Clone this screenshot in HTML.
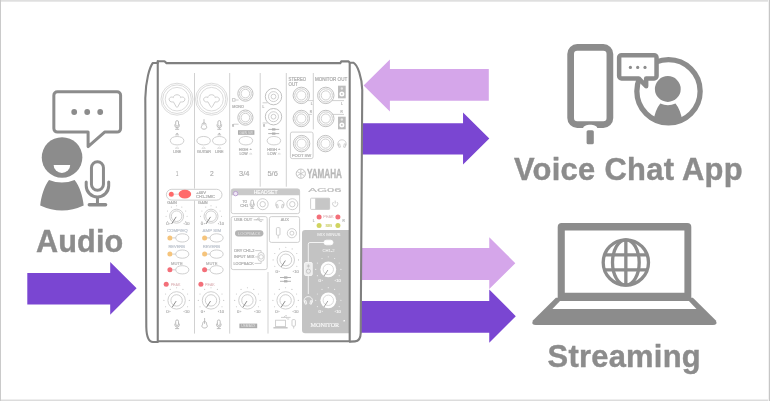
<!DOCTYPE html>
<html lang="en"><head><meta charset="utf-8"><title>Audio routing</title>
<style>
html,body{margin:0;padding:0;background:#fff;}
body{width:770px;height:401px;overflow:hidden;position:relative;font-family:"Liberation Sans",sans-serif;}
svg{position:absolute;left:0;top:0;display:block;will-change:transform;opacity:0.999}
.lbl{font-family:"Liberation Sans",sans-serif;font-weight:bold;font-size:30.9px;fill:#8c8c8c;stroke:#8c8c8c;stroke-width:0.4px;letter-spacing:0.12px;}
.t{font-family:"Liberation Sans",sans-serif;fill:#b9b9b9;}
</style></head><body>
<svg width="770" height="401" viewBox="0 0 770 401">
<rect x="0" y="0" width="770" height="401" fill="#fff"/>

<g id="frame"><rect x="0" y="0" width="770" height="1" fill="#dfdfdf"/><rect x="0" y="1" width="770" height="1" fill="#e8e8e8"/><rect x="0" y="399" width="770" height="1" fill="#eeeeee"/><rect x="0" y="400" width="770" height="1" fill="#dcdcdc"/><rect x="0" y="0" width="1" height="401" fill="#cacaca"/><rect x="768" y="0" width="1" height="401" fill="#f2f2f2"/><rect x="769" y="0" width="1" height="401" fill="#c6c6c6"/></g>
<g id="arrows">
<polygon points="27.3,273.05 110.2,273.05 110.2,261.9 136.6,288.30 110.2,314.7 110.2,304.5 27.3,304.5" fill="#7a46d2"/>
<polygon points="488.8,68.9 389.9,68.9 389.9,59.4 363.6,85.50 389.9,111.6 389.9,100.8 488.8,100.8" fill="#d5a6ea"/>
<polygon points="361,123.2 463.05,123.2 463.05,112.4 489.3,138.50 463.05,164.6 463.05,154.5 361,154.5" fill="#7a46d2"/>
<polygon points="361,248.1 489.25,248.1 489.25,237.2 515.3,263.15 489.25,289.1 489.25,279.9 361,279.9" fill="#d5a6ea"/>
<polygon points="361,301.05 489.25,301.05 489.25,289.6 515.8,316.15 489.25,342.7 489.25,332.75 361,332.75" fill="#7a46d2"/>
</g>
<text class="lbl" x="36.1" y="251.5" style="font-size:30.6px">Audio</text>
<text class="lbl" x="513.9" y="180" style="letter-spacing:0.3px">Voice Chat App</text>
<text class="lbl" x="547.6" y="367" style="letter-spacing:0.25px">Streaming</text>
<g id="audio-icon" fill="none" stroke="#8c8c8c">
<path d="M57.35,91.7 H117.1 a3.5,3.5 0 0 1 3.5,3.5 V128.6 a3.5,3.5 0 0 1 -3.5,3.5 H104.6 L88.1,146.6 V132.1 H57.35 a3.5,3.5 0 0 1 -3.5,-3.5 V95.2 a3.5,3.5 0 0 1 3.5,-3.5 Z" stroke-width="3" stroke-linejoin="round" fill="#fff"/>
<circle cx="74.2" cy="112" r="2.9" fill="#8c8c8c" stroke="none"/>
<circle cx="87.2" cy="112" r="2.9" fill="#8c8c8c" stroke="none"/>
<circle cx="100.2" cy="112" r="2.9" fill="#8c8c8c" stroke="none"/>
<circle cx="62.05" cy="157.45" r="20.3" fill="#8c8c8c" stroke="none"/>
<path d="M53.6,164.9 H70.2 A8.3,8.1 0 0 1 53.6,164.9 Z" fill="#fff" stroke="none"/>
<path d="M49,180 Q62,185 74.6,180 C79.6,186 82.6,196 83.7,205.4 Q62,215.4 40.2,205.4 C41.3,196 44.3,186 49,180 Z" fill="#8c8c8c" stroke="none"/>
<rect x="91.45" y="161.7" width="12" height="28.5" rx="6" stroke-width="3"/>
<path d="M86.2,181.9 V185.65 A11.25,11.25 0 0 0 108.7,185.65 V181.9" stroke-width="3" stroke-linecap="round"/>
<path d="M97.45,198 V204.5" stroke-width="3"/>
<path d="M89.3,204.75 H105.6" stroke-width="3.4" stroke-linecap="round"/>
</g>
<g id="phone">
<rect x="570.65" y="47.4" width="39.25" height="77.25" rx="6.6" fill="#fff" stroke="#8c8c8c" stroke-width="6.7"/>
<path d="M583.1,129 V128.4 C583.1,123.4 597.3,123.4 597.3,128.4 V129 Z" fill="#fff"/>
<rect x="586.6" y="130.2" width="7.2" height="14.15" rx="1.6" fill="#8c8c8c"/>
</g>
<g id="chat-person">
<clipPath id="cp"><circle cx="668.5" cy="91.3" r="31"/></clipPath>
<circle cx="668.5" cy="91.3" r="31.65" fill="#fff" stroke="#8c8c8c" stroke-width="5.3"/>
<circle cx="667.8" cy="89" r="12.9" fill="#8c8c8c"/>
<path clip-path="url(#cp)" d="M660.3,103.6 Q667.9,106.8 675.5,103.6 C679,108 681.3,114 682.6,122 V127 H653.2 V122 C654.5,114 656.8,108 660.3,103.6 Z" fill="#8c8c8c"/>
<path d="M621.55,55.15 H654.15 a2.4,2.4 0 0 1 2.4,2.4 V76 a2.4,2.4 0 0 1 -2.4,2.4 H646.15 V86.2 L638.7,78.4 H621.55 a2.4,2.4 0 0 1 -2.4,-2.4 V57.55 a2.4,2.4 0 0 1 2.4,-2.4 Z" fill="#fff" stroke="#8c8c8c" stroke-width="4.5" stroke-linejoin="round"/>
<circle cx="630.4" cy="67.4" r="1.6" fill="#8c8c8c"/>
<circle cx="637.7" cy="67.4" r="1.6" fill="#8c8c8c"/>
<circle cx="645" cy="67.4" r="1.6" fill="#8c8c8c"/>
</g>
<g id="laptop">
<path d="M555.9,297.8 H692.9 L715.9,320.4 Q717.8,325 713,325 H535.8 Q531,325 532.9,320.4 Z" fill="#8c8c8c"/>
<path fill-rule="evenodd" d="M561.7,222.9 H687.3 a4,4 0 0 1 4,4 V300.6 H557.7 V226.9 a4,4 0 0 1 4,-4 Z M564.8,230.5 V292.8 H684.4 V230.5 Z" fill="#8c8c8c"/>
<polygon points="560,300.9 688.9,300.9 696.5,308.9 552.4,308.9" fill="#fff"/>
<g fill="none" stroke="#8c8c8c" stroke-width="3.3"><circle cx="625.85" cy="262.45" r="22.65"/><ellipse cx="625.85" cy="262.45" rx="13.35" ry="22.65"/><path d="M625.85,240 V285 M604.5,254.9 H647.2 M604.5,269.9 H647.2"/></g>
</g>
<g id="mixer" font-family="&quot;Liberation Sans&quot;, sans-serif">
<path d="M157.75,63 H152.8 C149.6,67 145.6,81 145.3,98 L146.3,327 C146.5,337 148.6,341.8 153,342 L157.75,342 V341.3 H350 L355,341.4 C358.6,341.2 360.6,338.4 360.7,333 L362.25,90 C361.9,77 357.6,65 353.4,62.7 H349.8 L348.6,61.4 H341.3 L340.3,63.1 H166.5 L164.5,61.3 H157.75 Z" fill="#fff" stroke="none"/>
<path d="M305.2,230.1 H349 V333.3 H305.2 a3.2,3.2 0 0 1 -3.2,-3.2 V233.3 a3.2,3.2 0 0 1 3.2,-3.2 Z" fill="#c3c3c3"/>
<g fill="none" stroke="#c8c8c8" stroke-width="0.85">
<g stroke="#cccccc" stroke-width="0.9">
<path d="M194.5,73 V188.6 M194.5,200.6 V333.6"/>
<path d="M229.7,73 V333.6"/>
<path d="M260.2,73 V186.7"/>
<path d="M286.3,73 V186.7"/>
<path d="M313.3,73 V129.4"/>
<path d="M268,272 V333.6"/>
</g>
<g stroke="#d2d2d2" stroke-width="0.8"><circle cx="177" cy="99.2" r="16"/><circle cx="177" cy="99.2" r="14.3"/><circle cx="177" cy="99.2" r="11.8"/></g>
<path transform="translate(177,99.2)" d="M-3.6,-1.6 C-3.6,-5.4 3.6,-5.4 3.6,-1.6 C5.4,-3 8.4,-1.6 7.8,0.8 C7.2,3 4.6,3 3.6,2.6 L0.9,7.4 C0.4,8.4 -0.4,8.4 -0.9,7.4 L-3.6,2.6 C-4.6,3 -7.2,3 -7.8,0.8 C-8.4,-1.6 -5.4,-3 -3.6,-1.6 Z"/>
<g stroke="#d2d2d2" stroke-width="0.8"><circle cx="211.5" cy="99.2" r="16"/><circle cx="211.5" cy="99.2" r="14.3"/><circle cx="211.5" cy="99.2" r="11.8"/></g>
<path transform="translate(211.5,99.2)" d="M-3.6,-1.6 C-3.6,-5.4 3.6,-5.4 3.6,-1.6 C5.4,-3 8.4,-1.6 7.8,0.8 C7.2,3 4.6,3 3.6,2.6 L0.9,7.4 C0.4,8.4 -0.4,8.4 -0.9,7.4 L-3.6,2.6 C-4.6,3 -7.2,3 -7.8,0.8 C-8.4,-1.6 -5.4,-3 -3.6,-1.6 Z"/>
<g transform="translate(177.1,125) scale(1.0)" stroke="#b2b2b2" fill="none"><rect x="-1.4" y="-4.4" width="2.8" height="5.6" rx="1.4"/><path d="M-2.3,-0.6 V0.4 a2.3,2.3 0 0 0 4.6,0 V-0.6 M0,2.7 V4.2 M-2,4.3 H2"/></g>
<path d="M170.29999999999998,140.7 C170.29999999999998,135.075 183.9,135.075 183.9,140.7 C183.9,146.325 170.29999999999998,146.325 170.29999999999998,140.7 Z"/>
<g transform="translate(204,124.6)" stroke="#b2b2b2" fill="none"><path d="M0,-5.4 V0.5" stroke="#b5b5b5"/><path d="M-1,-1.6 C-2.8,-0.8 -1.2,0.4 -2.5,1.8 C-3.4,3.6 -1.6,4.6 0,4.6 C1.6,4.6 3.4,3.6 2.5,1.8 C1.2,0.4 2.8,-0.8 1,-1.6 Z"/></g>
<g transform="translate(219.3,125) scale(1.0)" stroke="#b2b2b2" fill="none"><rect x="-1.4" y="-4.4" width="2.8" height="5.6" rx="1.4"/><path d="M-2.3,-0.6 V0.4 a2.3,2.3 0 0 0 4.6,0 V-0.6 M0,2.7 V4.2 M-2,4.3 H2"/></g>
<path d="M196.79999999999998,140.7 C196.79999999999998,135.075 210.4,135.075 210.4,140.7 C210.4,146.325 196.79999999999998,146.325 196.79999999999998,140.7 Z"/>
<path d="M212.5,140.7 C212.5,135.075 226.10000000000002,135.075 226.10000000000002,140.7 C226.10000000000002,146.325 212.5,146.325 212.5,140.7 Z"/>
<circle cx="245.4" cy="93.6" r="7.6" stroke="#b6b6b6"/><circle cx="245.4" cy="93.6" r="6.0"/><circle cx="245.4" cy="93.6" r="4.3"/>
<circle cx="245.4" cy="117.6" r="7.6" stroke="#b6b6b6"/><circle cx="245.4" cy="117.6" r="6.0"/><circle cx="245.4" cy="117.6" r="4.3"/>
<rect x="232.4" y="98.6" width="2.6" height="2.6"/><path d="M235,100 H238.6"/>
<path d="M233.5,124.2 H238.6"/>
<path d="M239.1,140.7 C239.1,135.075 252.70000000000002,135.075 252.70000000000002,140.7 C252.70000000000002,146.325 239.1,146.325 239.1,140.7 Z"/>
<circle cx="273.5" cy="96.6" r="8.2" stroke="#b6b6b6"/><circle cx="273.5" cy="96.6" r="5.0"/><circle cx="273.5" cy="96.6" r="2.4"/>
<circle cx="273.5" cy="116.7" r="8.2" stroke="#b6b6b6"/><circle cx="273.5" cy="116.7" r="5.0"/><circle cx="273.5" cy="116.7" r="2.4"/>
<path d="M262.6,102.8 H267.6 M262.6,123 H267.6"/>
<path d="M267.09999999999997,140.7 C267.09999999999997,135.075 280.7,135.075 280.7,140.7 C280.7,146.325 267.09999999999997,146.325 267.09999999999997,140.7 Z"/>
<path d="M268.2,129.4 H279.2" stroke="#a8a8a8"/><rect x="272" y="128.3" width="3.4" height="2.2" fill="#b0b0b0" stroke="none"/>
<path d="M268.2,133.6 H279.2" stroke="#a8a8a8"/><rect x="272" y="132.5" width="3.4" height="2.2" fill="#b0b0b0" stroke="none"/>
<circle cx="301.3" cy="95.4" r="8.2" stroke="#b6b6b6"/><circle cx="301.3" cy="95.4" r="6.6"/><circle cx="301.3" cy="95.4" r="4.6"/>
<circle cx="301.3" cy="118.5" r="8.2" stroke="#b6b6b6"/><circle cx="301.3" cy="118.5" r="6.6"/><circle cx="301.3" cy="118.5" r="4.6"/>
<path d="M307.9,100.6 H313.4 M308.7,114.4 H311.9"/>
<circle cx="325.8" cy="95.4" r="8.2" stroke="#b6b6b6"/><circle cx="325.8" cy="95.4" r="6.6"/><circle cx="325.8" cy="95.4" r="4.6"/>
<circle cx="325.8" cy="118.5" r="8.2" stroke="#b6b6b6"/><circle cx="325.8" cy="118.5" r="6.6"/><circle cx="325.8" cy="118.5" r="4.6"/>
<path d="M331.9,100.6 H344 M331.9,114.4 H344"/>
<circle cx="325.5" cy="143.6" r="8.2" stroke="#b6b6b6"/><circle cx="325.5" cy="143.6" r="6.6"/><circle cx="325.5" cy="143.6" r="4.6"/>
<g transform="translate(342,143.8) scale(1.0)" stroke="#c8c8c8" fill="none"><path d="M-3.6,2.2 C-5,-0.5 -3.6,-4 0,-4 C3.6,-4 5,-0.5 3.6,2.2"/><path d="M-3.8,0.3 L-2.3,0 L-1.6,3.3 L-3.1,3.6 Z M3.8,0.3 L2.3,0 L1.6,3.3 L3.1,3.6 Z"/></g>
<rect x="290.4" y="132.1" width="22.7" height="26.5" rx="1.8"/>
<circle cx="301.6" cy="143.6" r="8.2" stroke="#b6b6b6"/><circle cx="301.6" cy="143.6" r="6.6"/><circle cx="301.6" cy="143.6" r="4.6"/>
<rect x="166.4" y="189.3" width="55.6" height="10.8" rx="5.4" fill="#fff" stroke="#c6c6c6"/>
<circle cx="176.6" cy="216.2" r="7" fill="none" stroke="#c8c8c8"/><circle cx="176.6" cy="216.2" r="5.3" fill="none" stroke="#c8c8c8"/><circle cx="167.51" cy="221.45" r="0.55" fill="#c4c4c4" stroke="none"/><circle cx="166.10" cy="216.20" r="0.55" fill="#c4c4c4" stroke="none"/><circle cx="167.51" cy="210.95" r="0.55" fill="#c4c4c4" stroke="none"/><circle cx="171.35" cy="207.11" r="0.55" fill="#c4c4c4" stroke="none"/><circle cx="176.60" cy="205.70" r="0.55" fill="#c4c4c4" stroke="none"/><circle cx="181.85" cy="207.11" r="0.55" fill="#c4c4c4" stroke="none"/><circle cx="185.69" cy="210.95" r="0.55" fill="#c4c4c4" stroke="none"/><circle cx="187.10" cy="216.20" r="0.55" fill="#c4c4c4" stroke="none"/><circle cx="185.69" cy="221.45" r="0.55" fill="#c4c4c4" stroke="none"/><line x1="176.16" y1="216.87" x2="171.53" y2="224.00" stroke="#8e8e8e" stroke-width="1"/>
<circle cx="211" cy="216.2" r="7" fill="none" stroke="#c8c8c8"/><circle cx="211" cy="216.2" r="5.3" fill="none" stroke="#c8c8c8"/><circle cx="201.91" cy="221.45" r="0.55" fill="#c4c4c4" stroke="none"/><circle cx="200.50" cy="216.20" r="0.55" fill="#c4c4c4" stroke="none"/><circle cx="201.91" cy="210.95" r="0.55" fill="#c4c4c4" stroke="none"/><circle cx="205.75" cy="207.11" r="0.55" fill="#c4c4c4" stroke="none"/><circle cx="211.00" cy="205.70" r="0.55" fill="#c4c4c4" stroke="none"/><circle cx="216.25" cy="207.11" r="0.55" fill="#c4c4c4" stroke="none"/><circle cx="220.09" cy="210.95" r="0.55" fill="#c4c4c4" stroke="none"/><circle cx="221.50" cy="216.20" r="0.55" fill="#c4c4c4" stroke="none"/><circle cx="220.09" cy="221.45" r="0.55" fill="#c4c4c4" stroke="none"/><line x1="210.56" y1="216.87" x2="205.93" y2="224.00" stroke="#8e8e8e" stroke-width="1"/>
<path d="M175.70000000000002,237.9 C175.70000000000002,232.4 188.9,232.4 188.9,237.9 C188.9,243.4 175.70000000000002,243.4 175.70000000000002,237.9 Z"/>
<path d="M172.3,237.9 H175.8"/>
<path d="M175.70000000000002,254.1 C175.70000000000002,248.6 188.9,248.6 188.9,254.1 C188.9,259.6 175.70000000000002,259.6 175.70000000000002,254.1 Z"/>
<path d="M172.3,254.1 H175.8"/>
<path d="M175.70000000000002,269.8 C175.70000000000002,264.3 188.9,264.3 188.9,269.8 C188.9,275.3 175.70000000000002,275.3 175.70000000000002,269.8 Z"/>
<path d="M172.3,269.8 H175.8"/>
<path d="M210.0,237.9 C210.0,232.4 223.2,232.4 223.2,237.9 C223.2,243.4 210.0,243.4 210.0,237.9 Z"/>
<path d="M207.0,237.9 H210.1"/>
<path d="M210.0,254.1 C210.0,248.6 223.2,248.6 223.2,254.1 C223.2,259.6 210.0,259.6 210.0,254.1 Z"/>
<path d="M207.0,254.1 H210.1"/>
<path d="M210.0,269.8 C210.0,264.3 223.2,264.3 223.2,269.8 C223.2,275.3 210.0,275.3 210.0,269.8 Z"/>
<path d="M207.0,269.8 H210.1"/>
<circle cx="176.6" cy="300.4" r="8.7" fill="none" stroke="#c8c8c8"/><circle cx="176.6" cy="300.4" r="5.7" fill="none" stroke="#c8c8c8"/><circle cx="165.60" cy="306.75" r="0.55" fill="#c4c4c4" stroke="none"/><circle cx="163.90" cy="300.40" r="0.55" fill="#c4c4c4" stroke="none"/><circle cx="165.60" cy="294.05" r="0.55" fill="#c4c4c4" stroke="none"/><circle cx="170.25" cy="289.40" r="0.55" fill="#c4c4c4" stroke="none"/><circle cx="176.60" cy="287.70" r="0.55" fill="#c4c4c4" stroke="none"/><circle cx="182.95" cy="289.40" r="0.55" fill="#c4c4c4" stroke="none"/><circle cx="187.60" cy="294.05" r="0.55" fill="#c4c4c4" stroke="none"/><circle cx="189.30" cy="300.40" r="0.55" fill="#c4c4c4" stroke="none"/><circle cx="187.60" cy="306.75" r="0.55" fill="#c4c4c4" stroke="none"/><line x1="176.16" y1="301.07" x2="172.13" y2="307.28" stroke="#8e8e8e" stroke-width="1"/>
<circle cx="211" cy="300.4" r="8.7" fill="none" stroke="#c8c8c8"/><circle cx="211" cy="300.4" r="5.7" fill="none" stroke="#c8c8c8"/><circle cx="200.00" cy="306.75" r="0.55" fill="#c4c4c4" stroke="none"/><circle cx="198.30" cy="300.40" r="0.55" fill="#c4c4c4" stroke="none"/><circle cx="200.00" cy="294.05" r="0.55" fill="#c4c4c4" stroke="none"/><circle cx="204.65" cy="289.40" r="0.55" fill="#c4c4c4" stroke="none"/><circle cx="211.00" cy="287.70" r="0.55" fill="#c4c4c4" stroke="none"/><circle cx="217.35" cy="289.40" r="0.55" fill="#c4c4c4" stroke="none"/><circle cx="222.00" cy="294.05" r="0.55" fill="#c4c4c4" stroke="none"/><circle cx="223.70" cy="300.40" r="0.55" fill="#c4c4c4" stroke="none"/><circle cx="222.00" cy="306.75" r="0.55" fill="#c4c4c4" stroke="none"/><line x1="210.56" y1="301.07" x2="206.53" y2="307.28" stroke="#8e8e8e" stroke-width="1"/>
<circle cx="247.4" cy="300.4" r="8.7" fill="none" stroke="#c8c8c8"/><circle cx="247.4" cy="300.4" r="5.7" fill="none" stroke="#c8c8c8"/><circle cx="236.40" cy="306.75" r="0.55" fill="#c4c4c4" stroke="none"/><circle cx="234.70" cy="300.40" r="0.55" fill="#c4c4c4" stroke="none"/><circle cx="236.40" cy="294.05" r="0.55" fill="#c4c4c4" stroke="none"/><circle cx="241.05" cy="289.40" r="0.55" fill="#c4c4c4" stroke="none"/><circle cx="247.40" cy="287.70" r="0.55" fill="#c4c4c4" stroke="none"/><circle cx="253.75" cy="289.40" r="0.55" fill="#c4c4c4" stroke="none"/><circle cx="258.40" cy="294.05" r="0.55" fill="#c4c4c4" stroke="none"/><circle cx="260.10" cy="300.40" r="0.55" fill="#c4c4c4" stroke="none"/><circle cx="258.40" cy="306.75" r="0.55" fill="#c4c4c4" stroke="none"/><line x1="246.96" y1="301.07" x2="242.93" y2="307.28" stroke="#8e8e8e" stroke-width="1"/>
<circle cx="285.6" cy="300.4" r="8.7" fill="none" stroke="#c8c8c8"/><circle cx="285.6" cy="300.4" r="5.7" fill="none" stroke="#c8c8c8"/><circle cx="274.60" cy="306.75" r="0.55" fill="#c4c4c4" stroke="none"/><circle cx="272.90" cy="300.40" r="0.55" fill="#c4c4c4" stroke="none"/><circle cx="274.60" cy="294.05" r="0.55" fill="#c4c4c4" stroke="none"/><circle cx="279.25" cy="289.40" r="0.55" fill="#c4c4c4" stroke="none"/><circle cx="285.60" cy="287.70" r="0.55" fill="#c4c4c4" stroke="none"/><circle cx="291.95" cy="289.40" r="0.55" fill="#c4c4c4" stroke="none"/><circle cx="296.60" cy="294.05" r="0.55" fill="#c4c4c4" stroke="none"/><circle cx="298.30" cy="300.40" r="0.55" fill="#c4c4c4" stroke="none"/><circle cx="296.60" cy="306.75" r="0.55" fill="#c4c4c4" stroke="none"/><line x1="285.16" y1="301.07" x2="281.13" y2="307.28" stroke="#8e8e8e" stroke-width="1"/>
<circle cx="285.8" cy="259.9" r="8.7" fill="none" stroke="#c8c8c8"/><circle cx="285.8" cy="259.9" r="5.9" fill="none" stroke="#c8c8c8"/><circle cx="274.80" cy="266.25" r="0.55" fill="#c4c4c4" stroke="none"/><circle cx="273.10" cy="259.90" r="0.55" fill="#c4c4c4" stroke="none"/><circle cx="274.80" cy="253.55" r="0.55" fill="#c4c4c4" stroke="none"/><circle cx="279.45" cy="248.90" r="0.55" fill="#c4c4c4" stroke="none"/><circle cx="285.80" cy="247.20" r="0.55" fill="#c4c4c4" stroke="none"/><circle cx="292.15" cy="248.90" r="0.55" fill="#c4c4c4" stroke="none"/><circle cx="296.80" cy="253.55" r="0.55" fill="#c4c4c4" stroke="none"/><circle cx="298.50" cy="259.90" r="0.55" fill="#c4c4c4" stroke="none"/><circle cx="296.80" cy="266.25" r="0.55" fill="#c4c4c4" stroke="none"/><line x1="285.36" y1="260.57" x2="281.33" y2="266.78" stroke="#8e8e8e" stroke-width="1"/>
<g transform="translate(177.1,324.3) scale(1.0)" stroke="#b2b2b2" fill="none"><rect x="-1.4" y="-4.4" width="2.8" height="5.6" rx="1.4"/><path d="M-2.3,-0.6 V0.4 a2.3,2.3 0 0 0 4.6,0 V-0.6 M0,2.7 V4.2 M-2,4.3 H2"/></g>
<g transform="translate(204.6,323.4)" stroke="#b2b2b2" fill="none"><path d="M0,-5.4 V0.5" stroke="#b5b5b5"/><path d="M-1,-1.6 C-2.8,-0.8 -1.2,0.4 -2.5,1.8 C-3.4,3.6 -1.6,4.6 0,4.6 C1.6,4.6 3.4,3.6 2.5,1.8 C1.2,0.4 2.8,-0.8 1,-1.6 Z"/></g>
<g transform="translate(218.8,324.3) scale(1.0)" stroke="#b2b2b2" fill="none"><rect x="-1.4" y="-4.4" width="2.8" height="5.6" rx="1.4"/><path d="M-2.3,-0.6 V0.4 a2.3,2.3 0 0 0 4.6,0 V-0.6 M0,2.7 V4.2 M-2,4.3 H2"/></g>
<rect x="231.2" y="189" width="68.4" height="24.6" rx="2"/>
<g transform="translate(252.2,204.2) scale(0.95)" stroke="#b2b2b2" fill="none"><rect x="-1.4" y="-4.4" width="2.8" height="5.6" rx="1.4"/><path d="M-2.3,-0.6 V0.4 a2.3,2.3 0 0 0 4.6,0 V-0.6 M0,2.7 V4.2 M-2,4.3 H2"/></g>
<circle cx="262.7" cy="204.2" r="5.5" stroke="#c8c8c8"/><circle cx="262.7" cy="204.2" r="2.7"/>
<g transform="translate(279.9,204.4) scale(1.0)" stroke="#c8c8c8" fill="none"><path d="M-3.6,2.2 C-5,-0.5 -3.6,-4 0,-4 C3.6,-4 5,-0.5 3.6,2.2"/><path d="M-3.8,0.3 L-2.3,0 L-1.6,3.3 L-3.1,3.6 Z M3.8,0.3 L2.3,0 L1.6,3.3 L3.1,3.6 Z"/></g>
<circle cx="292.3" cy="204.2" r="5.5" stroke="#c8c8c8"/><circle cx="292.3" cy="204.2" r="2.7"/>
<rect x="231.2" y="216.6" width="36" height="53" rx="2"/>
<path d="M255.2,250.6 H261.1 V252.6 M255.2,256.9 H258.1 M254.6,263.4 H261.1 V261.2" />
<rect x="258.1" y="252.6" width="6" height="8.6" rx="2.6"/><circle cx="261.1" cy="256.9" r="2.2"/>
<path d="M253.7,219.8 H263.4 M256.4,219.8 L258.2,218.2 H259.8 M258.4,219.8 L260.2,221.4 H261.8" stroke="#b8b8b8"/>
<rect x="269.4" y="216.6" width="30.2" height="25.8" rx="2"/>
<rect x="276.4" y="227.6" width="3.6" height="7.6" rx="1"/><path d="M278.2,235.2 V238.4"/>
<circle cx="291.9" cy="233.2" r="4.6" stroke="#c8c8c8"/><circle cx="291.9" cy="233.2" r="2.0"/>
<path d="M280,277.5 H291" stroke="#a8a8a8"/><rect x="284" y="276.4" width="3.4" height="2.2" fill="#b0b0b0" stroke="none"/>
<path d="M280,281.3 H291" stroke="#a8a8a8"/><rect x="284" y="280.2" width="3.4" height="2.2" fill="#b0b0b0" stroke="none"/>
<path d="M281,317.4 H290.6 M283.6,317.4 L285.4,315.8 H287 M285.8,317.4 L287.6,319 H289.2"/>
<rect x="275.6" y="320.2" width="9.8" height="6.4"/><path d="M273.4,327.8 H287.6" stroke-width="1.3" stroke="#bdbdbd"/>
<rect x="292" y="319.6" width="3.4" height="6.6" rx="1"/><path d="M293.7,326.2 V328.6"/>
<rect x="310.6" y="198.2" width="19" height="11.2" rx="0.8" fill="#fff"/>
<rect x="315.2" y="198.2" width="14.4" height="11.2" fill="#c6c6c6" stroke="none"/>
<path d="M333.4,202 a2.6,2.6 0 1 0 3.6,0 M335.2,200.6 V203.6"/>
<circle cx="300.8" cy="173.7" r="4.6" stroke="#c2c2c2" stroke-width="1"/><path d="M300.8,169.6 V177.8 M297.2,171.6 L304.4,175.8 M304.4,171.6 L297.2,175.8" stroke="#c2c2c2" stroke-width="0.8"/>
</g>
<rect x="238" y="130.2" width="16.4" height="4.6" fill="#adadad"/>
<rect x="239.4" y="323.6" width="17.8" height="4.6" fill="#adadad"/>
<path d="M233.2,188.7 H297.8 a2,2 0 0 1 2,2 V195.2 H231.2 V190.7 a2,2 0 0 1 2,-2 Z" fill="#c9c9c9"/>
<rect x="235" y="230.2" width="28.4" height="6.3" rx="3.15" fill="#b4b4b4"/>
<circle cx="235.6" cy="193.6" r="2.2" fill="#efe6f5" stroke="#b99ccf" stroke-width="0.9"/>
<rect x="338" y="85.7" width="7.7" height="12.6" fill="#bdbdbd"/><circle cx="341.85" cy="93.9" r="2.5" fill="#fff"/><circle cx="341.85" cy="93.9" r="0.9" fill="#bdbdbd"/><circle cx="341.85" cy="88.5" r="1.2" fill="#e6e6e6"/>
<rect x="338" y="116.7" width="7.7" height="12.6" fill="#bdbdbd"/><circle cx="341.85" cy="124.9" r="2.5" fill="#fff"/><circle cx="341.85" cy="124.9" r="0.9" fill="#bdbdbd"/><circle cx="341.85" cy="119.5" r="1.2" fill="#e6e6e6"/>
<circle cx="171.3" cy="194.2" r="2.5" fill="#ff6a6a"/><path d="M173.8,194.2 H179" stroke="#d4d4d4" stroke-width="0.8"/><ellipse cx="184.9" cy="194.1" rx="6.3" ry="4.4" fill="#ff6a6a"/>
<circle cx="169.9" cy="237.9" r="2.5" fill="#f5c47c"/><circle cx="169.9" cy="254.1" r="2.5" fill="#f5c47c"/><circle cx="169.9" cy="269.8" r="2.5" fill="#f36f79"/>
<circle cx="204.6" cy="237.9" r="2.5" fill="#f5c47c"/><circle cx="204.6" cy="254.1" r="2.5" fill="#f5c47c"/><circle cx="204.6" cy="269.8" r="2.5" fill="#f36f79"/>
<circle cx="166.2" cy="284.3" r="2.5" fill="#f36f79"/><circle cx="200.9" cy="284.3" r="2.5" fill="#f36f79"/>
<circle cx="319.1" cy="216.9" r="2.5" fill="#f36f79"/><circle cx="337.9" cy="216.9" r="2.5" fill="#f36f79"/>
<circle cx="319.1" cy="225.5" r="2.5" fill="#d0d460"/><circle cx="337.9" cy="225.5" r="2.5" fill="#d0d460"/>
<g fill="none" stroke="#fff" stroke-width="0.8">
<rect x="324" y="240.2" width="9" height="4.6" rx="2.3" fill="#fff"/>
<path d="M324,242.5 H310 a1.7,1.7 0 0 0 -1.7,1.7 V262.4 M308.3,275.6 V294"/>
<rect x="304.6" y="262.6" width="7.6" height="12.8" rx="1" fill="#ececec" stroke="#fff"/>
<circle cx="308.4" cy="271.2" r="2.1" stroke="#bdbdbd"/><path d="M308.4,264.4 V267.6 M306.9,266 H309.9" stroke="#bdbdbd"/>
<g transform="translate(308.3,300.6) scale(1.0)" stroke="#fff" fill="none"><path d="M-3.6,2.2 C-5,-0.5 -3.6,-4 0,-4 C3.6,-4 5,-0.5 3.6,2.2"/><path d="M-3.8,0.3 L-2.3,0 L-1.6,3.3 L-3.1,3.6 Z M3.8,0.3 L2.3,0 L1.6,3.3 L3.1,3.6 Z"/></g>
</g>
<circle cx="328.3" cy="269.4" r="7.9" fill="#fff"/><circle cx="328.3" cy="269.4" r="5.2" fill="none" stroke="#d0d0d0" stroke-width="0.8"/><circle cx="317.39" cy="275.70" r="0.6" fill="#ececec"/><circle cx="315.70" cy="269.40" r="0.6" fill="#ececec"/><circle cx="317.39" cy="263.10" r="0.6" fill="#ececec"/><circle cx="322.00" cy="258.49" r="0.6" fill="#ececec"/><circle cx="328.30" cy="256.80" r="0.6" fill="#ececec"/><circle cx="334.60" cy="258.49" r="0.6" fill="#ececec"/><circle cx="339.21" cy="263.10" r="0.6" fill="#ececec"/><circle cx="340.90" cy="269.40" r="0.6" fill="#ececec"/><circle cx="339.21" cy="275.70" r="0.6" fill="#ececec"/><line x1="327.86" y1="270.07" x2="323.94" y2="276.11" stroke="#9a9a9a" stroke-width="0.9"/>
<circle cx="328.3" cy="300.3" r="7.9" fill="#fff"/><circle cx="328.3" cy="300.3" r="5.2" fill="none" stroke="#d0d0d0" stroke-width="0.8"/><circle cx="317.39" cy="306.60" r="0.6" fill="#ececec"/><circle cx="315.70" cy="300.30" r="0.6" fill="#ececec"/><circle cx="317.39" cy="294.00" r="0.6" fill="#ececec"/><circle cx="322.00" cy="289.39" r="0.6" fill="#ececec"/><circle cx="328.30" cy="287.70" r="0.6" fill="#ececec"/><circle cx="334.60" cy="289.39" r="0.6" fill="#ececec"/><circle cx="339.21" cy="294.00" r="0.6" fill="#ececec"/><circle cx="340.90" cy="300.30" r="0.6" fill="#ececec"/><circle cx="339.21" cy="306.60" r="0.6" fill="#ececec"/><line x1="327.86" y1="300.97" x2="323.94" y2="307.01" stroke="#9a9a9a" stroke-width="0.9"/>
<text transform="translate(317.30,236) scale(0.125)" x="0" y="0" font-size="33.72" fill="#f4f4f4" stroke="#f4f4f4" stroke-width="0.40" font-weight="normal" textLength="185.60" lengthAdjust="spacingAndGlyphs">MIX MINUS</text>
<text transform="translate(322.50,252) scale(0.125)" x="0" y="0" font-size="33.72" fill="#f4f4f4" stroke="#f4f4f4" stroke-width="0.40" font-weight="normal" textLength="96.00" lengthAdjust="spacingAndGlyphs">CH1-2</text>
<text transform="translate(310.60,327) scale(0.125)" x="0" y="0" font-size="48.84" fill="#f6f6f6" stroke="#f6f6f6" stroke-width="1.60" font-weight="normal" textLength="228.80" lengthAdjust="spacingAndGlyphs" font-family="&quot;Liberation Serif&quot;, serif">MONITOR</text>
<text transform="translate(343.60,323) scale(0.125)" x="0" y="0" font-size="27.91" fill="#ffffff" stroke="#ffffff" stroke-width="1.76" font-weight="normal" textLength="11.20" lengthAdjust="spacingAndGlyphs">*</text>
<text transform="translate(175.90,176) scale(0.125)" x="0" y="0" font-size="52.33" fill="#adadad" stroke="#adadad" stroke-width="1.20" font-weight="normal" textLength="18.40" lengthAdjust="spacingAndGlyphs">1</text>
<text transform="translate(210.00,176) scale(0.125)" x="0" y="0" font-size="52.33" fill="#adadad" stroke="#adadad" stroke-width="1.20" font-weight="normal" textLength="29.60" lengthAdjust="spacingAndGlyphs">2</text>
<text transform="translate(239.00,176) scale(0.125)" x="0" y="0" font-size="52.33" fill="#adadad" stroke="#adadad" stroke-width="1.20" font-weight="normal" textLength="83.20" lengthAdjust="spacingAndGlyphs">3/4</text>
<text transform="translate(267.40,176) scale(0.125)" x="0" y="0" font-size="52.33" fill="#adadad" stroke="#adadad" stroke-width="1.20" font-weight="normal" textLength="83.20" lengthAdjust="spacingAndGlyphs">5/6</text>
<text transform="translate(173.20,153) scale(0.125)" x="0" y="0" font-size="32.56" fill="#b2b2b2" stroke="#b2b2b2" stroke-width="1.76" font-weight="normal" textLength="63.20" lengthAdjust="spacingAndGlyphs">LINE</text>
<text transform="translate(197.10,153) scale(0.125)" x="0" y="0" font-size="32.56" fill="#b2b2b2" stroke="#b2b2b2" stroke-width="1.76" font-weight="normal" textLength="111.20" lengthAdjust="spacingAndGlyphs">GUITAR</text>
<text transform="translate(215.10,153) scale(0.125)" x="0" y="0" font-size="32.56" fill="#b2b2b2" stroke="#b2b2b2" stroke-width="1.76" font-weight="normal" textLength="66.40" lengthAdjust="spacingAndGlyphs">LINE</text>
<text transform="translate(238.70,151) scale(0.125)" x="0" y="0" font-size="30.23" fill="#b2b2b2" stroke="#b2b2b2" stroke-width="1.76" font-weight="normal" textLength="77.60" lengthAdjust="spacingAndGlyphs">HIGH</text>
<text transform="translate(239.50,155) scale(0.125)" x="0" y="0" font-size="30.23" fill="#b2b2b2" stroke="#b2b2b2" stroke-width="1.76" font-weight="normal" textLength="65.60" lengthAdjust="spacingAndGlyphs">LOW</text>
<text transform="translate(267.20,151) scale(0.125)" x="0" y="0" font-size="30.23" fill="#b2b2b2" stroke="#b2b2b2" stroke-width="1.76" font-weight="normal" textLength="77.60" lengthAdjust="spacingAndGlyphs">HIGH</text>
<text transform="translate(267.60,155) scale(0.125)" x="0" y="0" font-size="30.23" fill="#b2b2b2" stroke="#b2b2b2" stroke-width="1.76" font-weight="normal" textLength="68.80" lengthAdjust="spacingAndGlyphs">LOW</text>
<text transform="translate(232.30,108) scale(0.125)" x="0" y="0" font-size="33.72" fill="#b2b2b2" stroke="#b2b2b2" stroke-width="1.76" font-weight="normal" textLength="92.80" lengthAdjust="spacingAndGlyphs">MONO</text>
<text transform="translate(232.00,127) scale(0.125)" x="0" y="0" font-size="30.23" fill="#b2b2b2" stroke="#b2b2b2" stroke-width="1.76" font-weight="normal" textLength="17.60" lengthAdjust="spacingAndGlyphs">R</text>
<text transform="translate(262.60,108) scale(0.125)" x="0" y="0" font-size="30.23" fill="#b2b2b2" stroke="#b2b2b2" stroke-width="1.76" font-weight="normal" textLength="14.40" lengthAdjust="spacingAndGlyphs">L</text>
<text transform="translate(263.10,127) scale(0.125)" x="0" y="0" font-size="30.23" fill="#b2b2b2" stroke="#b2b2b2" stroke-width="1.76" font-weight="normal" textLength="17.60" lengthAdjust="spacingAndGlyphs">R</text>
<text transform="translate(288.60,81) scale(0.125)" x="0" y="0" font-size="38.37" fill="#adadad" stroke="#adadad" stroke-width="1.60" font-weight="normal" textLength="140.00" lengthAdjust="spacingAndGlyphs">STEREO</text>
<text transform="translate(288.60,86) scale(0.125)" x="0" y="0" font-size="38.37" fill="#adadad" stroke="#adadad" stroke-width="1.60" font-weight="normal" textLength="72.00" lengthAdjust="spacingAndGlyphs">OUT</text>
<text transform="translate(315.00,81) scale(0.125)" x="0" y="0" font-size="38.37" fill="#adadad" stroke="#adadad" stroke-width="1.60" font-weight="normal" textLength="257.60" lengthAdjust="spacingAndGlyphs">MONITOR OUT</text>
<text transform="translate(310.80,105) scale(0.125)" x="0" y="0" font-size="30.23" fill="#b2b2b2" stroke="#b2b2b2" stroke-width="1.76" font-weight="normal" textLength="14.40" lengthAdjust="spacingAndGlyphs">L</text>
<text transform="translate(309.80,113) scale(0.125)" x="0" y="0" font-size="30.23" fill="#b2b2b2" stroke="#b2b2b2" stroke-width="1.76" font-weight="normal" textLength="17.60" lengthAdjust="spacingAndGlyphs">R</text>
<text transform="translate(341.10,105) scale(0.125)" x="0" y="0" font-size="30.23" fill="#b2b2b2" stroke="#b2b2b2" stroke-width="1.76" font-weight="normal" textLength="14.40" lengthAdjust="spacingAndGlyphs">L</text>
<text transform="translate(340.50,113) scale(0.125)" x="0" y="0" font-size="30.23" fill="#b2b2b2" stroke="#b2b2b2" stroke-width="1.76" font-weight="normal" textLength="17.60" lengthAdjust="spacingAndGlyphs">R</text>
<text transform="translate(291.90,157) scale(0.125)" x="0" y="0" font-size="34.88" fill="#b2b2b2" stroke="#b2b2b2" stroke-width="1.76" font-weight="normal" textLength="155.20" lengthAdjust="spacingAndGlyphs">FOOT SW</text>
<text transform="translate(196.10,194) scale(0.125)" x="0" y="0" font-size="31.40" fill="#b2b2b2" stroke="#b2b2b2" stroke-width="1.76" font-weight="normal" textLength="79.20" lengthAdjust="spacingAndGlyphs">+48V</text>
<text transform="translate(196.10,198) scale(0.125)" x="0" y="0" font-size="31.40" fill="#b2b2b2" stroke="#b2b2b2" stroke-width="1.76" font-weight="normal" textLength="151.20" lengthAdjust="spacingAndGlyphs">CH1-2MIC</text>
<text transform="translate(167.30,204) scale(0.125)" x="0" y="0" font-size="31.40" fill="#b2b2b2" stroke="#b2b2b2" stroke-width="1.76" font-weight="normal" textLength="76.00" lengthAdjust="spacingAndGlyphs">GAIN</text>
<text transform="translate(198.10,204) scale(0.125)" x="0" y="0" font-size="31.40" fill="#b2b2b2" stroke="#b2b2b2" stroke-width="1.76" font-weight="normal" textLength="76.80" lengthAdjust="spacingAndGlyphs">GAIN</text>
<text transform="translate(166.90,232) scale(0.125)" x="0" y="0" font-size="34.88" fill="#c0c7d0" stroke="#c0c7d0" stroke-width="1.76" font-weight="normal" textLength="165.60" lengthAdjust="spacingAndGlyphs">COMP/EQ</text>
<text transform="translate(168.40,248) scale(0.125)" x="0" y="0" font-size="34.88" fill="#c0c7d0" stroke="#c0c7d0" stroke-width="1.76" font-weight="normal" textLength="132.00" lengthAdjust="spacingAndGlyphs">REVERB</text>
<text transform="translate(171.10,265) scale(0.125)" x="0" y="0" font-size="34.88" fill="#b8b8b8" stroke="#b8b8b8" stroke-width="1.76" font-weight="normal" textLength="92.00" lengthAdjust="spacingAndGlyphs">MUTE</text>
<text transform="translate(202.50,232) scale(0.125)" x="0" y="0" font-size="34.88" fill="#c0c7d0" stroke="#c0c7d0" stroke-width="1.76" font-weight="normal" textLength="148.80" lengthAdjust="spacingAndGlyphs">AMP SIM</text>
<text transform="translate(202.80,248) scale(0.125)" x="0" y="0" font-size="34.88" fill="#c0c7d0" stroke="#c0c7d0" stroke-width="1.76" font-weight="normal" textLength="137.60" lengthAdjust="spacingAndGlyphs">REVERB</text>
<text transform="translate(206.10,265) scale(0.125)" x="0" y="0" font-size="34.88" fill="#b8b8b8" stroke="#b8b8b8" stroke-width="1.76" font-weight="normal" textLength="91.20" lengthAdjust="spacingAndGlyphs">MUTE</text>
<text transform="translate(170.70,286) scale(0.125)" x="0" y="0" font-size="32.56" fill="#e0bcbf" stroke="#e0bcbf" stroke-width="0.96" font-weight="normal" textLength="77.60" lengthAdjust="spacingAndGlyphs">PEAK</text>
<text transform="translate(205.10,286) scale(0.125)" x="0" y="0" font-size="32.56" fill="#e0bcbf" stroke="#e0bcbf" stroke-width="0.96" font-weight="normal" textLength="77.60" lengthAdjust="spacingAndGlyphs">PEAK</text>
<text transform="translate(323.30,218) scale(0.125)" x="0" y="0" font-size="30.23" fill="#e0bcbf" stroke="#e0bcbf" stroke-width="0.96" font-weight="normal" textLength="83.20" lengthAdjust="spacingAndGlyphs">PEAK</text>
<text transform="translate(325.50,227) scale(0.125)" x="0" y="0" font-size="30.23" fill="#cdd070" stroke="#cdd070" stroke-width="1.76" font-weight="normal" textLength="52.00" lengthAdjust="spacingAndGlyphs">SIG</text>
<text transform="translate(312.70,222) scale(0.125)" x="0" y="0" font-size="30.23" fill="#b2b2b2" stroke="#b2b2b2" stroke-width="1.76" font-weight="normal" textLength="14.40" lengthAdjust="spacingAndGlyphs">L</text>
<text transform="translate(342.40,222) scale(0.125)" x="0" y="0" font-size="30.23" fill="#b2b2b2" stroke="#b2b2b2" stroke-width="1.76" font-weight="normal" textLength="17.60" lengthAdjust="spacingAndGlyphs">R</text>
<text transform="translate(253.70,194) scale(0.125)" x="0" y="0" font-size="43.02" fill="#ffffff" stroke="#ffffff" stroke-width="0.96" font-weight="normal" textLength="191.20" lengthAdjust="spacingAndGlyphs">HEADSET</text>
<text transform="translate(242.40,203) scale(0.125)" x="0" y="0" font-size="31.40" fill="#b2b2b2" stroke="#b2b2b2" stroke-width="1.76" font-weight="normal" textLength="36.80" lengthAdjust="spacingAndGlyphs">TO</text>
<text transform="translate(240.20,207) scale(0.125)" x="0" y="0" font-size="31.40" fill="#b2b2b2" stroke="#b2b2b2" stroke-width="1.76" font-weight="normal" textLength="65.60" lengthAdjust="spacingAndGlyphs">CH1</text>
<text transform="translate(234.20,221) scale(0.125)" x="0" y="0" font-size="32.56" fill="#b2b2b2" stroke="#b2b2b2" stroke-width="1.76" font-weight="normal" textLength="144.00" lengthAdjust="spacingAndGlyphs">USB OUT</text>
<text transform="translate(280.70,221) scale(0.125)" x="0" y="0" font-size="32.56" fill="#b2b2b2" stroke="#b2b2b2" stroke-width="1.76" font-weight="normal" textLength="65.60" lengthAdjust="spacingAndGlyphs">AUX</text>
<text transform="translate(234.20,252) scale(0.125)" x="0" y="0" font-size="31.40" fill="#b2b2b2" stroke="#b2b2b2" stroke-width="1.76" font-weight="normal" textLength="161.60" lengthAdjust="spacingAndGlyphs">DRY CH1-2</text>
<text transform="translate(233.80,258) scale(0.125)" x="0" y="0" font-size="31.40" fill="#b2b2b2" stroke="#b2b2b2" stroke-width="1.76" font-weight="normal" textLength="164.80" lengthAdjust="spacingAndGlyphs">INPUT MIX</text>
<text transform="translate(233.50,265) scale(0.125)" x="0" y="0" font-size="31.40" fill="#b2b2b2" stroke="#b2b2b2" stroke-width="1.76" font-weight="normal" textLength="161.60" lengthAdjust="spacingAndGlyphs">LOOPBACK</text>
<text transform="translate(238.00,235) scale(0.125)" x="0" y="0" font-size="25.58" fill="#e2e2e2" stroke="#e2e2e2" stroke-width="0.00" font-weight="normal" textLength="179.20" lengthAdjust="spacingAndGlyphs">LOOPBACK</text>
<text transform="translate(239.60,134) scale(0.125)" x="0" y="0" font-size="23.26" fill="#e6e6e6" stroke="#e6e6e6" stroke-width="0.00" font-weight="normal" textLength="105.60" lengthAdjust="spacingAndGlyphs">GAIN SW</text>
<text transform="translate(241.20,327) scale(0.125)" x="0" y="0" font-size="23.26" fill="#e6e6e6" stroke="#e6e6e6" stroke-width="0.00" font-weight="normal" textLength="113.60" lengthAdjust="spacingAndGlyphs">USB/AUX</text>
<polygon points="175.4,134.5 177.1,132.7 178.79999999999998,134.5" fill="#b0b0b0" stroke="none" stroke-width="0.4"/>
<rect x="175.2" y="134.7" width="3.8" height="0.6" fill="#bdbdbd"/>
<polygon points="217.60000000000002,134.5 219.3,132.7 221.0,134.5" fill="#b0b0b0" stroke="none" stroke-width="0.4"/>
<rect x="217.4" y="134.7" width="3.8" height="0.6" fill="#bdbdbd"/>
<polygon points="175.29999999999998,148.35 177.1,146.85 178.9,148.35" fill="none" stroke="#b8b8b8" stroke-width="0.4"/>
<polygon points="201.79999999999998,148.35 203.6,146.85 205.4,148.35" fill="none" stroke="#b8b8b8" stroke-width="0.4"/>
<polygon points="217.5,148.35 219.3,146.85 221.10000000000002,148.35" fill="none" stroke="#b8b8b8" stroke-width="0.4"/>
<polygon points="249.39999999999998,150.1 250.7,148.29999999999998 252.0,150.1" fill="#b8b8b8" stroke="none" stroke-width="0.4"/>
<polygon points="249.39999999999998,154.2 250.7,152.8 252.0,154.2" fill="none" stroke="#bdbdbd" stroke-width="0.4"/>
<polygon points="277.9,150.1 279.2,148.29999999999998 280.5,150.1" fill="#b8b8b8" stroke="none" stroke-width="0.4"/>
<polygon points="277.9,154.2 279.2,152.8 280.5,154.2" fill="none" stroke="#bdbdbd" stroke-width="0.4"/>
<text transform="translate(166.30,313) scale(0.125)" x="0" y="0" font-size="33.72" fill="#b2b2b2" stroke="#b2b2b2" stroke-width="1.60" font-weight="normal" textLength="19.20" lengthAdjust="spacingAndGlyphs">0</text><polygon points="169.5,310.6 170.7,311.5 169.5,312.4" fill="#b2b2b2"/><polygon points="184.5,310.6 183.29999999999998,311.5 184.5,312.4" fill="#b2b2b2"/><text transform="translate(185.10,313) scale(0.125)" x="0" y="0" font-size="33.72" fill="#b2b2b2" stroke="#b2b2b2" stroke-width="1.60" font-weight="normal" textLength="36.00" lengthAdjust="spacingAndGlyphs">10</text>
<text transform="translate(200.70,313) scale(0.125)" x="0" y="0" font-size="33.72" fill="#b2b2b2" stroke="#b2b2b2" stroke-width="1.60" font-weight="normal" textLength="19.20" lengthAdjust="spacingAndGlyphs">0</text><polygon points="203.9,310.6 205.1,311.5 203.9,312.4" fill="#b2b2b2"/><polygon points="218.9,310.6 217.7,311.5 218.9,312.4" fill="#b2b2b2"/><text transform="translate(219.50,313) scale(0.125)" x="0" y="0" font-size="33.72" fill="#b2b2b2" stroke="#b2b2b2" stroke-width="1.60" font-weight="normal" textLength="36.00" lengthAdjust="spacingAndGlyphs">10</text>
<text transform="translate(237.10,313) scale(0.125)" x="0" y="0" font-size="33.72" fill="#b2b2b2" stroke="#b2b2b2" stroke-width="1.60" font-weight="normal" textLength="19.20" lengthAdjust="spacingAndGlyphs">0</text><polygon points="240.3,310.6 241.5,311.5 240.3,312.4" fill="#b2b2b2"/><polygon points="255.3,310.6 254.1,311.5 255.3,312.4" fill="#b2b2b2"/><text transform="translate(255.90,313) scale(0.125)" x="0" y="0" font-size="33.72" fill="#b2b2b2" stroke="#b2b2b2" stroke-width="1.60" font-weight="normal" textLength="36.00" lengthAdjust="spacingAndGlyphs">10</text>
<text transform="translate(275.30,313) scale(0.125)" x="0" y="0" font-size="33.72" fill="#b2b2b2" stroke="#b2b2b2" stroke-width="1.60" font-weight="normal" textLength="19.20" lengthAdjust="spacingAndGlyphs">0</text><polygon points="278.5,310.6 279.70000000000005,311.5 278.5,312.4" fill="#b2b2b2"/><polygon points="293.5,310.6 292.3,311.5 293.5,312.4" fill="#b2b2b2"/><text transform="translate(294.10,313) scale(0.125)" x="0" y="0" font-size="33.72" fill="#b2b2b2" stroke="#b2b2b2" stroke-width="1.60" font-weight="normal" textLength="36.00" lengthAdjust="spacingAndGlyphs">10</text>
<text transform="translate(166.30,225) scale(0.125)" x="0" y="0" font-size="33.72" fill="#b2b2b2" stroke="#b2b2b2" stroke-width="1.60" font-weight="normal" textLength="19.20" lengthAdjust="spacingAndGlyphs">0</text><polygon points="169.5,222.79999999999998 170.7,223.7 169.5,224.6" fill="#b2b2b2"/><polygon points="184.5,222.79999999999998 183.29999999999998,223.7 184.5,224.6" fill="#b2b2b2"/><text transform="translate(185.10,225) scale(0.125)" x="0" y="0" font-size="33.72" fill="#b2b2b2" stroke="#b2b2b2" stroke-width="1.60" font-weight="normal" textLength="36.00" lengthAdjust="spacingAndGlyphs">10</text>
<text transform="translate(200.70,225) scale(0.125)" x="0" y="0" font-size="33.72" fill="#b2b2b2" stroke="#b2b2b2" stroke-width="1.60" font-weight="normal" textLength="19.20" lengthAdjust="spacingAndGlyphs">0</text><polygon points="203.9,222.79999999999998 205.1,223.7 203.9,224.6" fill="#b2b2b2"/><polygon points="218.9,222.79999999999998 217.7,223.7 218.9,224.6" fill="#b2b2b2"/><text transform="translate(219.50,225) scale(0.125)" x="0" y="0" font-size="33.72" fill="#b2b2b2" stroke="#b2b2b2" stroke-width="1.60" font-weight="normal" textLength="36.00" lengthAdjust="spacingAndGlyphs">10</text>
<text transform="translate(275.50,273) scale(0.125)" x="0" y="0" font-size="33.72" fill="#b2b2b2" stroke="#b2b2b2" stroke-width="1.60" font-weight="normal" textLength="19.20" lengthAdjust="spacingAndGlyphs">0</text><polygon points="278.7,270.5 279.90000000000003,271.4 278.7,272.29999999999995" fill="#b2b2b2"/><polygon points="293.7,270.5 292.5,271.4 293.7,272.29999999999995" fill="#b2b2b2"/><text transform="translate(294.30,273) scale(0.125)" x="0" y="0" font-size="33.72" fill="#b2b2b2" stroke="#b2b2b2" stroke-width="1.60" font-weight="normal" textLength="36.00" lengthAdjust="spacingAndGlyphs">10</text>
<text transform="translate(318.60,282) scale(0.125)" x="0" y="0" font-size="33.72" fill="#f4f4f4" stroke="#f4f4f4" stroke-width="1.60" font-weight="normal" textLength="19.20" lengthAdjust="spacingAndGlyphs">0</text><polygon points="321.8,279.5 323.00000000000006,280.4 321.8,281.29999999999995" fill="#f4f4f4"/><polygon points="335.59999999999997,279.5 334.4,280.4 335.59999999999997,281.29999999999995" fill="#f4f4f4"/><text transform="translate(336.20,282) scale(0.125)" x="0" y="0" font-size="33.72" fill="#f4f4f4" stroke="#f4f4f4" stroke-width="1.60" font-weight="normal" textLength="36.00" lengthAdjust="spacingAndGlyphs">10</text>
<text transform="translate(318.60,313) scale(0.125)" x="0" y="0" font-size="33.72" fill="#f4f4f4" stroke="#f4f4f4" stroke-width="1.60" font-weight="normal" textLength="19.20" lengthAdjust="spacingAndGlyphs">0</text><polygon points="321.8,310.40000000000003 323.00000000000006,311.3 321.8,312.2" fill="#f4f4f4"/><polygon points="335.59999999999997,310.40000000000003 334.4,311.3 335.59999999999997,312.2" fill="#f4f4f4"/><text transform="translate(336.20,313) scale(0.125)" x="0" y="0" font-size="33.72" fill="#f4f4f4" stroke="#f4f4f4" stroke-width="1.60" font-weight="normal" textLength="36.00" lengthAdjust="spacingAndGlyphs">10</text>
<text transform="translate(307.00,178) scale(0.125)" x="0" y="0" font-size="101.16" fill="#b8b8b8" stroke="#b8b8b8" stroke-width="2.80" font-weight="bold" textLength="280.00" lengthAdjust="spacingAndGlyphs">YAMAHA</text>
<text transform="translate(308.30,192) scale(0.125)" x="0" y="0" font-size="44.19" fill="#bcbcbc" stroke="#bcbcbc" stroke-width="1.20" font-weight="normal" textLength="265.60" lengthAdjust="spacingAndGlyphs">AG06</text>
<g fill="none" stroke="#808080" stroke-width="2.1" stroke-linejoin="round" stroke-linecap="round">
<path d="M157.75,63 H152.8 C149.6,67 145.6,81 145.3,98 L146.3,327 C146.5,337 148.6,341.8 153,342 L157.75,342"/>
<path d="M157.75,61.3 H164.5 L166.5,63.1 H340.3 L341.3,61.4 H348.6 L349.8,62.7 H353.4 C357.6,65 361.9,77 362.25,90 L360.7,333 C360.6,338.4 358.6,341.2 355,341.4 L350,341.6"/>
<path d="M157.75,61.3 V341.6 M349.7,62.7 V341.6 M157.75,341.3 H349.7"/>
</g>
</g>
</svg></body></html>
